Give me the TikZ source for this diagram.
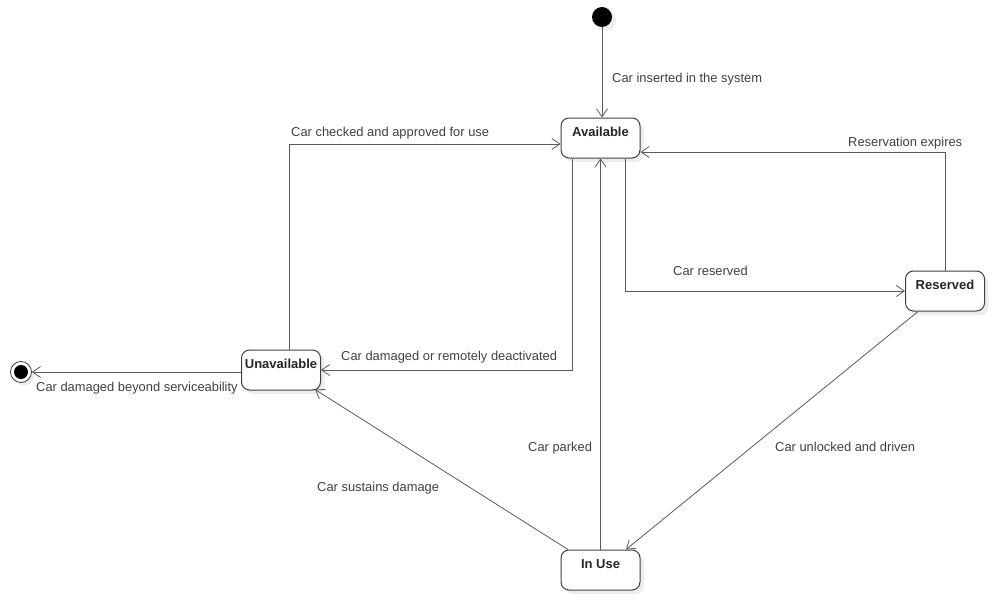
\documentclass[tikz,border=0pt]{standalone}
\usepackage{fontspec}
\setmainfont{Liberation Sans}
\usetikzlibrary{arrows.meta,shadows}
\definecolor{linegray}{HTML}{5A5A5A}
\definecolor{labelgray}{HTML}{404040}
\begin{document}
\begin{tikzpicture}[x=1pt,y=-1pt,
  every node/.style={font=\fontsize{12.9}{15}\selectfont},
  state/.style={draw=black!75, line width=1pt, rounded corners=8pt, fill=white,
    minimum width=79pt, minimum height=40pt, inner ysep=3pt,
    text height=15.5pt, text depth=18.5pt, font=\fontsize{13}{15}\selectfont\bfseries,
    text=black!85,
    general shadow={fill=black!7, shadow xshift=4pt, shadow yshift=-4pt}},
  edge/.style={draw=linegray, line width=0.8pt, -{Straight Barb[length=8pt,width=11pt]}},
  lbl/.style={anchor=base west, inner sep=0pt, text=labelgray}]
\useasboundingbox (0,0) rectangle (995,605);

% states
\node[state] (av) at (600.5,138) {Available};
\node[state] (res) at (945,291) {Reserved};
\node[state] (un) at (281,370) {Unavailable};
\node[state] (iu) at (600.5,570) {In Use};

% initial and final pseudo-states
\node[circle, fill=black, minimum size=20pt, inner sep=0pt,
  general shadow={fill=black!7, shadow xshift=4pt, shadow yshift=-4pt}] (init) at (602,17) {};
\node[circle, draw=black!75, line width=0.8pt, fill=white, minimum size=21pt, inner sep=0pt,
  general shadow={fill=black!7, shadow xshift=3pt, shadow yshift=-3pt}] (fin) at (21,372) {};
\node[circle, fill=black, minimum size=14pt, inner sep=0pt] (fincore) at (fin) {};

% transitions
\draw[edge] (init) -- (init |- av.north);
\draw[edge] ([xshift=8pt]un.north) |- ([yshift=-6pt]av.west);
\draw[edge] ([xshift=-28.5pt]av.south) |- (un.east);
\draw[edge] ([xshift=24.5pt]av.south) |- (res.west);
\draw[edge] (res.north) |- ([yshift=-14pt]av.east);
\draw[edge] ([xshift=-27pt]res.south) -- ([xshift=25.5pt]iu.north);
\draw[edge] (iu.north) -- (av.south);
\draw[edge] ([xshift=-32.5pt]iu.north) -- ([xshift=34pt,yshift=1pt]un.south);
\draw[edge] ([yshift=-2pt]un.west) -- (fin.east);

% transition labels
\node[lbl] (l1) at (612,82.5) {Car inserted in the system};
\node[lbl] (l2) at (291,136.5) {Car checked and approved for use};
\node[lbl] (l3) at (341,360.5) {Car damaged or remotely deactivated};
\node[lbl] (l4) at (673,275.5) {Car reserved};
\node[lbl] (l5) at (848,146.5) {Reservation expires};
\node[lbl] (l6) at (775,451.5) {Car unlocked and driven};
\node[lbl] (l7) at (528,451.5) {Car parked};
\node[lbl] (l8) at (317,491.5) {Car sustains damage};
\node[lbl] (l9) at (36,391.5) {Car damaged beyond serviceability};
\end{tikzpicture}
\end{document}
